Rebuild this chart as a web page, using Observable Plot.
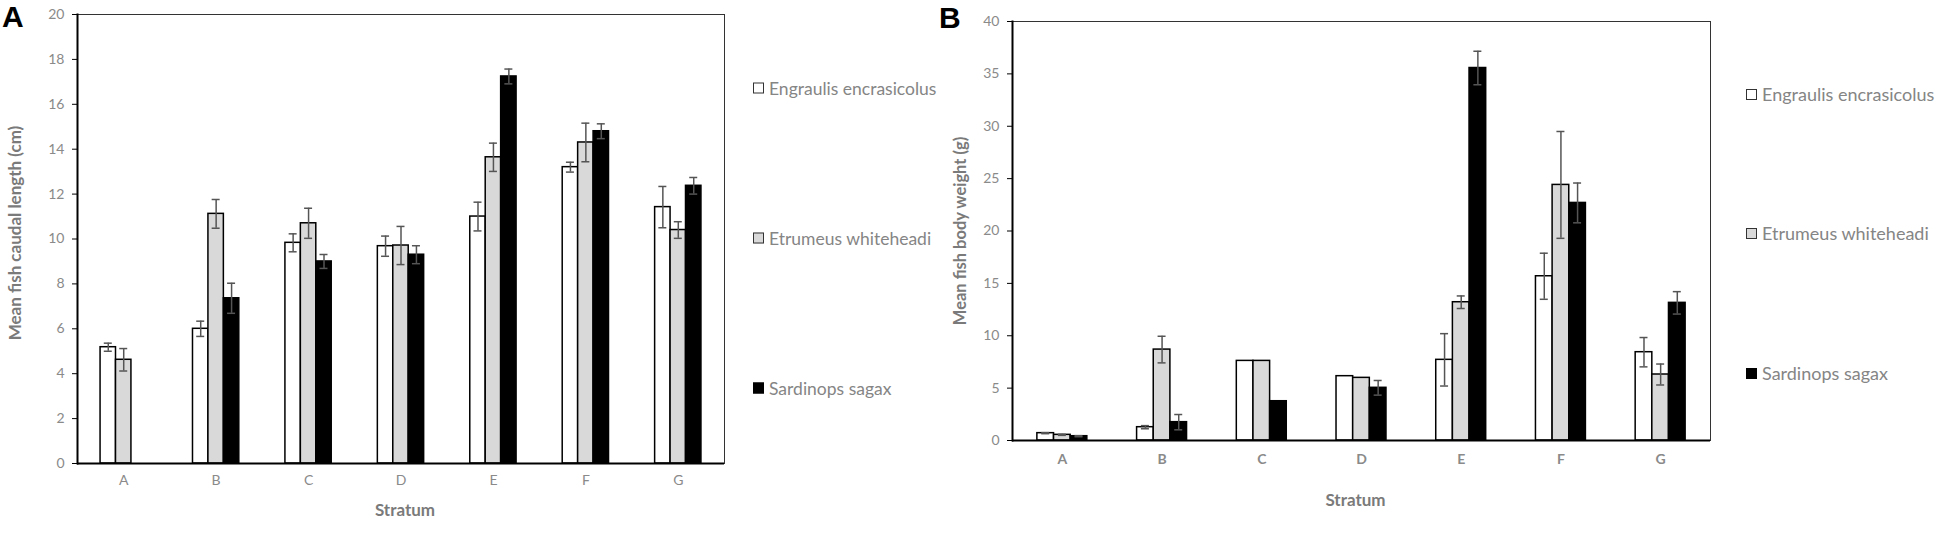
<!DOCTYPE html>
<html><head><meta charset="utf-8">
<script src="https://cdn.jsdelivr.net/npm/d3@7"></script>
<script src="https://cdn.jsdelivr.net/npm/@observablehq/plot@0.6"></script>
<style>
body{margin:0;background:#fff;width:1950px;height:534px;overflow:hidden;position:relative;font-family:Lato,sans-serif}
.panel{position:absolute;top:0}
.letter{position:absolute;font-family:"Liberation Sans",Arial,sans-serif;font-weight:bold;font-size:30px;color:#000;line-height:1}
.legend-item{position:absolute;display:flex;align-items:center;color:#858585;white-space:nowrap;transform:translateY(-50%)}
.sw{width:9px;height:9px;border:1.6px solid #333;margin-right:5px;box-sizing:content-box}
</style></head><body>
<div id="A" class="panel" style="left:0"></div>
<div id="B" class="panel" style="left:940px"></div>
<div class="letter" style="left:2px;top:2px">A</div>
<div class="letter" style="left:939px;top:3px">B</div>
<div id="legA"></div>
<div id="legB"></div>
<script>
const strata = ["A","B","C","D","E","F","G"];
const species = ["Engraulis encrasicolus","Etrumeus whiteheadi","Sardinops sagax"];
const fills = ["#ffffff","#d9d9d9","#000000"];

// Panel A: mean caudal length (cm)
const lengthEngraulis    = [5.18, 6.0, 9.83, 9.68, 11.0, 13.2, 11.42];
const lengthEngraulisErr = [0.18, 0.34, 0.4, 0.45, 0.64, 0.22, 0.92];
const lengthEtrumeus     = [4.62, 11.12, 10.7, 9.71, 13.64, 14.3, 10.4];
const lengthEtrumeusErr  = [0.5, 0.64, 0.67, 0.85, 0.63, 0.86, 0.37];
const lengthSardinops    = [null, 7.36, 9.0, 9.3, 17.24, 14.8, 12.37];
const lengthSardinopsErr = [null, 0.67, 0.31, 0.4, 0.33, 0.33, 0.37];
const lengthTicks = [0,2,4,6,8,10,12,14,16,18,20];

// Panel B: mean body weight (g)
const weightEngraulis    = [0.7, 1.27, 7.6, 6.14, 7.7, 15.68, 8.43];
const weightEngraulisErr = [0.05, 0.15, 0, 0, 2.5, 2.2, 1.4];
const weightEtrumeus     = [0.54, 8.68, 7.6, 5.98, 13.2, 24.4, 6.3];
const weightEtrumeusErr  = [0.05, 1.27, 0, 0, 0.6, 5.1, 1.0];
const weightSardinops    = [0.41, 1.75, 3.75, 5.03, 35.56, 22.68, 13.14];
const weightSardinopsErr = [0.05, 0.73, 0, 0.7, 1.6, 1.9, 1.07];
const weightTicks = [0,5,10,15,20,25,30,35,40];

function panel(o) {
  const rows = [];
  species.forEach((s, i) => strata.forEach((st, j) => {
    const v = o.values[i][j];
    if (v != null) rows.push({stratum: st, species: s, i, v, e: o.errors[i][j] || 0});
  }));
  const plotW = o.width - o.mL - o.mR;
  const pi = 0.833;
  const bw = plotW / strata.length * (1 - pi);
  const marks = [
    Plot.frame({stroke: "#333", strokeWidth: 1})
  ];
  species.forEach((s, i) => {
    const d = rows.filter(r => r.i === i);
    const dx = (i - 1) * bw;
    marks.push(Plot.barY(d, {x: "stratum", y: "v", dx, fill: fills[i], stroke: "#000", strokeWidth: 1.5}));
  });
  species.forEach((s, i) => {
    const d = rows.filter(r => r.i === i && r.e > 0);
    const dx = (i - 1) * bw;
    const inset = bw / 2 - 4;
    marks.push(Plot.ruleX(d, {x: "stratum", y1: r => r.v - r.e, y2: r => r.v + r.e, dx, stroke: "#555", strokeWidth: 1.5}));
    marks.push(Plot.tickY(d, {x: "stratum", y: r => r.v + r.e, dx, insetLeft: inset, insetRight: inset, stroke: "#555", strokeWidth: 1.5}));
    marks.push(Plot.tickY(d, {x: "stratum", y: r => r.v - r.e, dx, insetLeft: inset, insetRight: inset, stroke: "#555", strokeWidth: 1.5}));
  });
  marks.push(
    Plot.frame({anchor: "left", stroke: "#000", strokeWidth: 2}),
    Plot.ruleY([0], {stroke: "#000", strokeWidth: 2}),
    Plot.axisY({ticks: o.ticks, tickSize: 5, tickPadding: 8, stroke: "#000", fill: "#8a8a8a", fontSize: 14, label: null}),
    Plot.axisX({tickSize: 0, tickPadding: o.xPad, fill: "#8a8a8a", fontSize: 14, fontWeight: o.xBold ? "bold" : "normal", label: null}),
    Plot.text([o.yLabel], {text: d => d, frameAnchor: "left", rotate: -90, dx: o.titleDx, dy: o.titleDy, textAnchor: "middle", lineAnchor: "middle", fontSize: o.titleSize, fontWeight: "bold", fill: "#7a7a7a"}),
    Plot.text(["Stratum"], {text: d => d, frameAnchor: "bottom", dx: o.stratDx, dy: o.stratDy, textAnchor: "middle", lineAnchor: "middle", fontSize: 17, fontWeight: "bold", fill: "#7a7a7a"})
  );
  return Plot.plot({
    width: o.width, height: o.height,
    marginLeft: o.mL, marginTop: o.mT, marginRight: o.mR, marginBottom: o.mB,
    style: {fontFamily: "Lato, sans-serif", overflow: "visible", background: "transparent"},
    x: {type: "band", domain: strata, paddingInner: pi, paddingOuter: pi / 2, round: false, axis: null},
    y: {domain: o.domain, axis: null},
    marks
  });
}

document.getElementById("A").append(panel({
  values: [lengthEngraulis, lengthEtrumeus, lengthSardinops],
  errors: [lengthEngraulisErr, lengthEtrumeusErr, lengthSardinopsErr],
  domain: [0, 20], ticks: lengthTicks, yLabel: "Mean fish caudal length (cm)",
  width: 740, height: 534, mL: 77, mT: 14, mR: 16, mB: 71,
  xPad: 12, xBold: false, titleDx: -62, titleDy: -6, titleSize: 17, stratDx: 4, stratDy: 47
}));
document.getElementById("B").append(panel({
  values: [weightEngraulis, weightEtrumeus, weightSardinops],
  errors: [weightEngraulisErr, weightEtrumeusErr, weightSardinopsErr],
  domain: [0, 40], ticks: weightTicks, yLabel: "Mean fish body weight (g)",
  width: 780, height: 534, mL: 72, mT: 21, mR: 10, mB: 94,
  xPad: 14, xBold: true, titleDx: -52, titleDy: 0, titleSize: 16.5, stratDx: -6, stratDy: 60
}));

function legend(id, left, tops, fontSize) {
  const el = document.getElementById(id);
  species.forEach((s, i) => {
    const item = document.createElement("div");
    item.className = "legend-item";
    item.style.left = left + "px";
    item.style.top = tops[i] + "px";
    item.style.fontSize = fontSize + "px";
    const sw = document.createElement("span");
    sw.className = "sw";
    sw.style.background = fills[i];
    if (i === 2) sw.style.borderColor = "#000";
    item.append(sw, document.createTextNode(s));
    el.append(item);
  });
}
legend("legA", 753, [88, 238, 388], 17.5);
legend("legB", 1746, [94, 233, 373], 18);
</script>
</body></html>
